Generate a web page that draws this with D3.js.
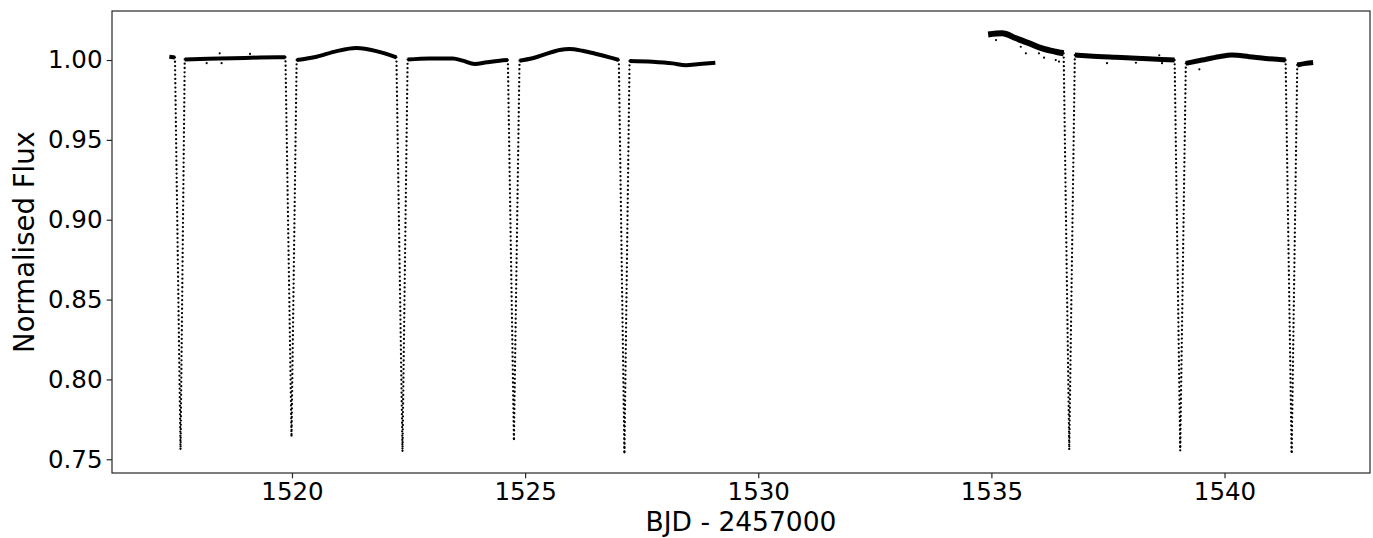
<!DOCTYPE html>
<html>
<head>
<meta charset="utf-8">
<script src="https://cdn.jsdelivr.net/npm/d3@7"></script>
<style>
  html, body { margin: 0; padding: 0; background: #fff; }
  svg { display: block; }
  text { font-family: "DejaVu Sans", sans-serif; fill: #000; }
</style>
</head>
<body>
<svg id="chart" width="1373" height="538"></svg>
<script>
// ---------------- DATA ----------------
// Out-of-eclipse light-curve pieces: [BJD - 2457000, normalised flux]
const basePre = [[1517.37, 1.0020], [1517.49, 1.0016]];
const baseA = [[1517.70, 1.0004], [1518.20, 1.0008], [1518.73, 1.0011], [1519.30, 1.0016], [1519.86, 1.0018]];
const baseB = [[1520.10, 1.0000], [1520.53, 1.0021], [1520.96, 1.0056], [1521.38, 1.0075], [1521.81, 1.0056], [1522.24, 1.0017]];
const baseC = [[1522.48, 1.0003], [1522.95, 1.0010], [1523.45, 1.0009], [1523.66, 0.9996], [1523.92, 0.9975], [1524.18, 0.9986], [1524.45, 0.9996], [1524.63, 1.0000]];
const baseD = [[1524.88, 0.9996], [1525.16, 1.0011], [1525.45, 1.0038], [1525.74, 1.0063], [1525.95, 1.0069], [1526.23, 1.0058], [1526.53, 1.0038], [1526.81, 1.0017], [1527.01, 1.0000]];
const baseE = [[1527.24, 0.9994], [1527.73, 0.9989], [1528.16, 0.9979], [1528.45, 0.9967], [1528.74, 0.9975], [1529.08, 0.9983]];
const baseF = [[1534.93, 1.0160], [1535.23, 1.0167], [1535.53, 1.0136], [1535.81, 1.0105], [1536.09, 1.0073], [1536.38, 1.0052], [1536.55, 1.0042]];
const baseG = [[1536.79, 1.0031], [1537.10, 1.0025], [1537.67, 1.0017], [1538.23, 1.0010], [1538.66, 1.0004], [1538.93, 1.0000]];
const baseH = [[1539.17, 0.9979], [1539.52, 1.0000], [1539.88, 1.0021], [1540.16, 1.0031], [1540.53, 1.0021], [1540.88, 1.0010], [1541.31, 1.0000]];
const baseI = [[1541.56, 0.9969], [1541.74, 0.9979], [1541.90, 0.9985]];

// Eclipse minima: time of minimum and flux at minimum
const eclipseTimes = [1517.61, 1519.99, 1522.37, 1524.76, 1527.13, 1536.67, 1539.05, 1541.44];
const eclipseDepths = [0.7555, 0.7640, 0.7550, 0.7615, 0.7535, 0.7560, 0.7555, 0.7530];

// Scattered individual points off the main band
const scatterT = [1518.17, 1518.45, 1518.49, 1519.10, 1535.10, 1535.63, 1535.74, 1536.02, 1536.13, 1536.38, 1536.45, 1537.48, 1538.10, 1538.60, 1538.66, 1539.46];
const scatterF = [0.9980, 1.0042, 0.9980, 1.0038, 1.0125, 1.0083, 1.0042, 1.0042, 1.0015, 1.0000, 0.9990, 0.9980, 0.9983, 1.0030, 0.9980, 0.9942];

// Axis ticks and labels
const xTicks = [1520, 1525, 1530, 1535, 1540];
const yTicks = [0.75, 0.80, 0.85, 0.90, 0.95, 1.00];
const xLabel = "BJD - 2457000";
const yLabel = "Normalised Flux";
const xDomain = [1516.14, 1543.12];
const yDomain = [0.7414, 1.0307];

// ---------------- DRAWING ----------------
const svg = d3.select("#chart");
const W = 1373, H = 538;
const margin = { left: 112, right: 3, top: 11, bottom: 65 };
const x = d3.scaleLinear().domain(xDomain).range([margin.left, W - margin.right]);
const y = d3.scaleLinear().domain(yDomain).range([H - margin.bottom, margin.top]);

const plot = svg.append("g");

// Base segments (thick band) in order, with band thickness style
const segments = [basePre, baseA, baseB, baseC, baseD, baseE, baseF, baseG, baseH, baseI];
const bandWidth = [4, 4, 4, 4, 4, 4, 6, 5, 5, 5];
const line = d3.line().x(d => x(d[0])).y(d => y(d[1])).curve(d3.curveMonotoneX);
const straight = d3.line().x(d => x(d[0])).y(d => y(d[1]));

segments.forEach((seg, i) => {
  plot.append("path")
    .attr("d", line(seg))
    .attr("fill", "none")
    .attr("stroke", "#000")
    .attr("stroke-width", bandWidth[i])
    .attr("stroke-linejoin", "round")
    .attr("stroke-linecap", "butt");
});

// Eclipses: from end of one piece, down to minimum, back up to start of next piece
const flank = [[basePre, baseA], [baseA, baseB], [baseB, baseC], [baseC, baseD], [baseD, baseE],
               [baseF, baseG], [baseG, baseH], [baseH, baseI]];
eclipseTimes.forEach((t, k) => {
  const before = flank[k][0][flank[k][0].length - 1];
  const after = flank[k][1][0];
  const pts = [before, [t, eclipseDepths[k]], after];
  [[pts[0], pts[1]], [pts[2], pts[1]]].forEach(branch => {
    plot.append("path")
      .attr("d", straight(branch))
      .attr("fill", "none")
      .attr("stroke", "#000")
      .attr("stroke-width", 2.3)
      .attr("stroke-linecap", "round")
      .attr("stroke-dasharray", "0 4.3");
  });
});

// Scatter points
plot.selectAll("circle.sc")
  .data(scatterT.map((t, i) => [t, scatterF[i]]))
  .join("circle")
  .attr("class", "sc")
  .attr("cx", d => x(d[0]))
  .attr("cy", d => y(d[1]))
  .attr("r", 1.1)
  .attr("fill", "#000");

// Axes
const axisColor = "#262626";
const fontSize = 24.5;
const xAxis = d3.axisBottom(x).tickValues(xTicks).tickFormat(d3.format("d")).tickSize(5.3).tickPadding(4.8);
const yAxis = d3.axisLeft(y).tickValues(yTicks).tickFormat(d3.format(".2f")).tickSize(5.3).tickPadding(4.2);

const gx = svg.append("g").attr("transform", `translate(0,${H - margin.bottom})`).call(xAxis);
const gy = svg.append("g").attr("transform", `translate(${margin.left},0)`).call(yAxis);
[gx, gy].forEach(g => {
  g.select(".domain").remove();
  g.selectAll(".tick line").attr("stroke", axisColor).attr("stroke-width", 1.2);
  g.selectAll(".tick text").attr("font-size", fontSize).attr("font-family", "DejaVu Sans").attr("fill", "#000");
});

// Frame (all four spines)
svg.append("rect")
  .attr("x", margin.left).attr("y", margin.top)
  .attr("width", W - margin.right - margin.left)
  .attr("height", H - margin.bottom - margin.top)
  .attr("fill", "none")
  .attr("stroke", axisColor)
  .attr("stroke-width", 1.2);

// Axis labels
svg.append("text")
  .attr("x", (margin.left + W - margin.right) / 2)
  .attr("y", 531)
  .attr("text-anchor", "middle")
  .attr("font-size", 26.5)
  .text(xLabel);

svg.append("text")
  .attr("transform", `translate(33.5,${(margin.top + H - margin.bottom) / 2}) rotate(-90)`)
  .attr("text-anchor", "middle")
  .attr("font-size", 27.5)
  .text(yLabel);
</script>
</body>
</html>
